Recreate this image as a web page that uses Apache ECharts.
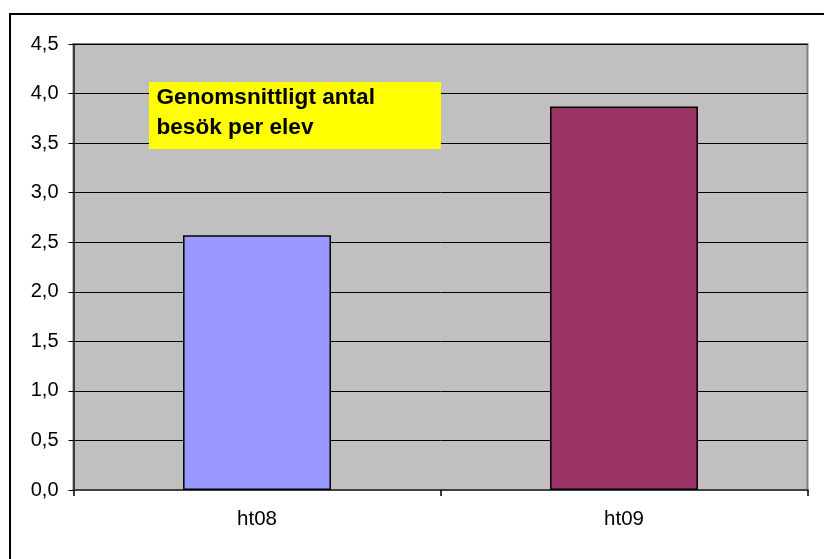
<!DOCTYPE html>
<html>
<head>
<meta charset="utf-8">
<script src="https://cdn.jsdelivr.net/npm/echarts@6/dist/echarts.min.js"></script>
<style>html,body{margin:0;padding:0;background:#fff;}#c{width:824px;height:559px;}</style>
</head>
<body>
<div id="c"></div>
<script>
const categories = ['ht08', 'ht09'];
const values = [2.57, 3.87];
const barColors = ['#9999FF', '#993366'];
const yTicks = [0, 0.5, 1, 1.5, 2, 2.5, 3, 3.5, 4, 4.5];
const titleLines = ['Genomsnittligt antal', 'besök per elev'];

const chart = echarts.init(document.getElementById('c'), null, {renderer: 'canvas'});
const font = '"Liberation Sans", Arial, sans-serif';
chart.setOption({
  animation: false,
  backgroundColor: '#ffffff',
  grid: {
    left: 73.5, top: 44, right: 16.5, bottom: 69,
    show: true, backgroundColor: '#C0C0C0', borderColor: '#808080', borderWidth: 2
  },
  xAxis: {
    type: 'category',
    data: categories,
    axisLine: {show: true, lineStyle: {color: '#404040', width: 2}},
    axisTick: {show: true, alignWithLabel: false, length: 6, lineStyle: {color: '#000', width: 1.5}},
    axisLabel: {color: '#000', fontFamily: font, fontSize: 20.5, margin: 19},
    splitLine: {show: false}
  },
  yAxis: {
    type: 'value',
    min: yTicks[0], max: yTicks[yTicks.length - 1], interval: 0.5,
    axisLine: {show: true, lineStyle: {color: '#202020', width: 1.5}},
    axisTick: {show: true, length: 5, lineStyle: {color: '#000', width: 1}},
    axisLabel: {
      color: '#000', fontFamily: font, fontSize: 20, margin: 15,
      formatter: v => v.toFixed(1).replace('.', ',')
    },
    splitLine: {show: true, lineStyle: {color: '#000', width: 1}}
  },
  series: [{
    type: 'bar',
    barWidth: '40.3%',
    data: values.map((v, i) => ({value: v, itemStyle: {color: barColors[i]}})),
    itemStyle: {borderColor: '#000', borderWidth: 1.5}
  }],
  graphic: [
    {type: 'rect', silent: true, z: 100, shape: {x: 10, y: 14, width: 900, height: 700},
     style: {fill: 'none', stroke: '#000', lineWidth: 2}},
    {type: 'rect', z: 100, shape: {x: 149, y: 82, width: 292, height: 67}, style: {fill: '#FFFF00'}},
    {type: 'text', z: 101, x: 156.5, y: 83,
     style: {text: titleLines.join('\n'), fill: '#000', font: 'bold 22.6px ' + font,
             lineHeight: 30, verticalAlign: 'top', align: 'left'}}
  ]
});
</script>
</body>
</html>
